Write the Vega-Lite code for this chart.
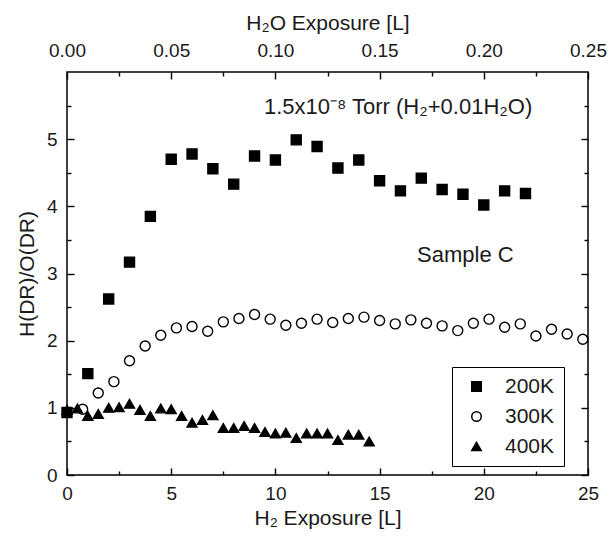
{
  "$schema": "https://vega.github.io/schema/vega-lite/v6.json",
  "width": 521,
  "height": 403,
  "autosize": {"type": "none"},
  "padding": {"left": 67, "top": 72, "right": 22, "bottom": 69},
  "background": "white",
  "config": {
    "font": "Liberation Sans",
    "view": {"stroke": "black", "strokeWidth": 1.5},
    "axis": {
      "domain": false,
      "grid": false,
      "ticks": true,
      "tickColor": "black",
      "tickWidth": 1.4,
      "labelFlush": false,
      "labelFont": "Liberation Sans",
      "labelFontSize": 19,
      "labelColor": "#1a1a1a",
      "titleFont": "Liberation Sans",
      "titleFontSize": 21,
      "titleFontWeight": "normal",
      "titleColor": "#1a1a1a"
    }
  },
  "datasets": {
    "pts": [
      {"h2": 0, "ratio": 0.93, "series": "200K"},
      {"h2": 1, "ratio": 1.51, "series": "200K"},
      {"h2": 2, "ratio": 2.62, "series": "200K"},
      {"h2": 3, "ratio": 3.17, "series": "200K"},
      {"h2": 4, "ratio": 3.85, "series": "200K"},
      {"h2": 5, "ratio": 4.70, "series": "200K"},
      {"h2": 6, "ratio": 4.78, "series": "200K"},
      {"h2": 7, "ratio": 4.56, "series": "200K"},
      {"h2": 8, "ratio": 4.33, "series": "200K"},
      {"h2": 9, "ratio": 4.75, "series": "200K"},
      {"h2": 10, "ratio": 4.69, "series": "200K"},
      {"h2": 11, "ratio": 4.99, "series": "200K"},
      {"h2": 12, "ratio": 4.89, "series": "200K"},
      {"h2": 13, "ratio": 4.57, "series": "200K"},
      {"h2": 14, "ratio": 4.69, "series": "200K"},
      {"h2": 15, "ratio": 4.38, "series": "200K"},
      {"h2": 16, "ratio": 4.23, "series": "200K"},
      {"h2": 17, "ratio": 4.42, "series": "200K"},
      {"h2": 18, "ratio": 4.25, "series": "200K"},
      {"h2": 19, "ratio": 4.18, "series": "200K"},
      {"h2": 20, "ratio": 4.02, "series": "200K"},
      {"h2": 21, "ratio": 4.23, "series": "200K"},
      {"h2": 22, "ratio": 4.19, "series": "200K"},
      {"h2": 0.75, "ratio": 0.98, "series": "300K"},
      {"h2": 1.5, "ratio": 1.22, "series": "300K"},
      {"h2": 2.25, "ratio": 1.39, "series": "300K"},
      {"h2": 3.0, "ratio": 1.70, "series": "300K"},
      {"h2": 3.75, "ratio": 1.92, "series": "300K"},
      {"h2": 4.5, "ratio": 2.08, "series": "300K"},
      {"h2": 5.25, "ratio": 2.19, "series": "300K"},
      {"h2": 6.0, "ratio": 2.21, "series": "300K"},
      {"h2": 6.75, "ratio": 2.14, "series": "300K"},
      {"h2": 7.5, "ratio": 2.28, "series": "300K"},
      {"h2": 8.25, "ratio": 2.33, "series": "300K"},
      {"h2": 9.0, "ratio": 2.39, "series": "300K"},
      {"h2": 9.75, "ratio": 2.32, "series": "300K"},
      {"h2": 10.5, "ratio": 2.23, "series": "300K"},
      {"h2": 11.25, "ratio": 2.26, "series": "300K"},
      {"h2": 12.0, "ratio": 2.32, "series": "300K"},
      {"h2": 12.75, "ratio": 2.27, "series": "300K"},
      {"h2": 13.5, "ratio": 2.33, "series": "300K"},
      {"h2": 14.25, "ratio": 2.35, "series": "300K"},
      {"h2": 15.0, "ratio": 2.30, "series": "300K"},
      {"h2": 15.75, "ratio": 2.25, "series": "300K"},
      {"h2": 16.5, "ratio": 2.31, "series": "300K"},
      {"h2": 17.25, "ratio": 2.26, "series": "300K"},
      {"h2": 18.0, "ratio": 2.22, "series": "300K"},
      {"h2": 18.75, "ratio": 2.15, "series": "300K"},
      {"h2": 19.5, "ratio": 2.26, "series": "300K"},
      {"h2": 20.25, "ratio": 2.32, "series": "300K"},
      {"h2": 21.0, "ratio": 2.20, "series": "300K"},
      {"h2": 21.75, "ratio": 2.25, "series": "300K"},
      {"h2": 22.5, "ratio": 2.07, "series": "300K"},
      {"h2": 23.25, "ratio": 2.17, "series": "300K"},
      {"h2": 24.0, "ratio": 2.10, "series": "300K"},
      {"h2": 24.75, "ratio": 2.02, "series": "300K"},
      {"h2": 0, "ratio": 0.97, "series": "400K"},
      {"h2": 0.5, "ratio": 0.99, "series": "400K"},
      {"h2": 1.0, "ratio": 0.88, "series": "400K"},
      {"h2": 1.5, "ratio": 0.91, "series": "400K"},
      {"h2": 2.0, "ratio": 1.00, "series": "400K"},
      {"h2": 2.5, "ratio": 1.01, "series": "400K"},
      {"h2": 3.0, "ratio": 1.06, "series": "400K"},
      {"h2": 3.5, "ratio": 0.97, "series": "400K"},
      {"h2": 4.0, "ratio": 0.88, "series": "400K"},
      {"h2": 4.5, "ratio": 0.99, "series": "400K"},
      {"h2": 5.0, "ratio": 0.98, "series": "400K"},
      {"h2": 5.5, "ratio": 0.88, "series": "400K"},
      {"h2": 6.0, "ratio": 0.78, "series": "400K"},
      {"h2": 6.5, "ratio": 0.82, "series": "400K"},
      {"h2": 7.0, "ratio": 0.89, "series": "400K"},
      {"h2": 7.5, "ratio": 0.70, "series": "400K"},
      {"h2": 8.0, "ratio": 0.70, "series": "400K"},
      {"h2": 8.5, "ratio": 0.73, "series": "400K"},
      {"h2": 9.0, "ratio": 0.70, "series": "400K"},
      {"h2": 9.5, "ratio": 0.64, "series": "400K"},
      {"h2": 10.0, "ratio": 0.62, "series": "400K"},
      {"h2": 10.5, "ratio": 0.63, "series": "400K"},
      {"h2": 11.0, "ratio": 0.55, "series": "400K"},
      {"h2": 11.5, "ratio": 0.62, "series": "400K"},
      {"h2": 12.0, "ratio": 0.62, "series": "400K"},
      {"h2": 12.5, "ratio": 0.62, "series": "400K"},
      {"h2": 13.0, "ratio": 0.52, "series": "400K"},
      {"h2": 13.5, "ratio": 0.60, "series": "400K"},
      {"h2": 14.0, "ratio": 0.60, "series": "400K"},
      {"h2": 14.5, "ratio": 0.50, "series": "400K"}
    ],
    "notes": [
      {"h2": 9.45, "ratio": 5.48, "label": "1.5x10⁻⁸ Torr (H₂+0.01H₂O)"},
      {"h2": 16.8, "ratio": 3.27, "label": "Sample C"}
    ]
  },
  "layer": [
    {
      "data": {"name": "pts"},
      "mark": {"type": "point", "filled": true, "strokeWidth": 1.4, "opacity": 1, "size": 100},
      "encoding": {
        "x": {
          "field": "h2", "type": "quantitative",
          "scale": {"domain": [0, 25], "nice": false, "zero": false},
          "axis": {
            "orient": "bottom",
            "values": [0, 5, 10, 15, 20, 25],
            "offset": -7,
            "tickSize": 7,
            "labelPadding": 9,
            "title": "H₂ Exposure [L]",
            "titlePadding": 4
          }
        },
        "y": {
          "field": "ratio", "type": "quantitative",
          "scale": {"domain": [0, 6], "nice": false},
          "axis": {
            "orient": "left",
            "values": [0, 1, 2, 3, 4, 5],
            "format": "d",
            "offset": -7,
            "tickSize": 7,
            "labelPadding": 10,
            "title": "H(DR)/O(DR)",
            "titlePadding": 9
          }
        },
        "shape": {
          "field": "series", "type": "nominal",
          "scale": {"domain": ["200K", "300K", "400K"], "range": ["square", "circle", "triangle-up"]},
          "legend": {
            "orient": "none", "legendX": 385, "legendY": 295, "title": null,
            "strokeColor": "black", "fillColor": "white", "padding": 9,
            "labelFontSize": 21, "labelColor": "#1a1a1a", "labelOffset": 18,
            "symbolSize": 90, "symbolOffset": 5, "rowPadding": 8,
            "labelExpr": "datum.label + '\u00a0'",
            "encode": {"symbols": {"update": {"stroke": {"value": "black"}, "strokeWidth": {"value": 1.4}}}}
          }
        },
        "fill": {
          "field": "series", "type": "nominal",
          "scale": {"domain": ["200K", "300K", "400K"], "range": ["black", "white", "black"]},
          "legend": {
            "orient": "none", "legendX": 385, "legendY": 295, "title": null,
            "strokeColor": "black", "fillColor": "white", "padding": 9,
            "labelFontSize": 21, "labelColor": "#1a1a1a", "labelOffset": 18,
            "symbolSize": 90, "symbolOffset": 5, "rowPadding": 8,
            "labelExpr": "datum.label + '\u00a0'",
            "encode": {"symbols": {"update": {"stroke": {"value": "black"}, "strokeWidth": {"value": 1.4}}}}
          }
        },
        "stroke": {"value": "black"}
      }
    },
    {
      "data": {"name": "notes"},
      "mark": {"type": "text", "align": "left", "baseline": "middle", "fontSize": 22, "color": "#1a1a1a", "font": "Liberation Sans"},
      "encoding": {
        "x": {"field": "h2", "type": "quantitative", "scale": {"domain": [0, 25], "nice": false, "zero": false}, "axis": null},
        "y": {"field": "ratio", "type": "quantitative", "scale": {"domain": [0, 6], "nice": false}, "axis": null},
        "text": {"field": "label"}
      }
    },
    {
      "data": {"name": "pts"},
      "mark": {"type": "point", "opacity": 0},
      "encoding": {
        "x": {
          "field": "h2", "type": "quantitative",
          "scale": {"domain": [0, 25], "nice": false, "zero": false},
          "axis": {
            "orient": "top",
            "values": [0, 5, 10, 15, 20, 25],
            "labelExpr": "format(datum.value / 100, '.2f')",
            "offset": -7,
            "tickSize": 7,
            "labelPadding": 12,
            "title": "H₂O Exposure [L]",
            "titlePadding": 8
          }
        },
        "y": {
          "field": "ratio", "type": "quantitative",
          "scale": {"domain": [0, 6], "nice": false},
          "axis": {
            "orient": "right",
            "values": [0, 1, 2, 3, 4, 5],
            "offset": -7,
            "tickSize": 7,
            "labels": false,
            "title": null
          }
        }
      }
    },
    {
      "data": {"name": "pts"},
      "mark": {"type": "point", "opacity": 0},
      "encoding": {
        "x": {
          "field": "h2", "type": "quantitative",
          "scale": {"domain": [0, 25], "nice": false, "zero": false},
          "axis": {
            "orient": "bottom",
            "values": [2.5, 7.5, 12.5, 17.5, 22.5],
            "offset": -4,
            "tickSize": 4,
            "labels": false,
            "title": null
          }
        },
        "y": {
          "field": "ratio", "type": "quantitative",
          "scale": {"domain": [0, 6], "nice": false},
          "axis": {
            "orient": "left",
            "values": [0.5, 1.5, 2.5, 3.5, 4.5, 5.5],
            "offset": -4,
            "tickSize": 4,
            "labels": false,
            "title": null
          }
        }
      }
    },
    {
      "data": {"name": "pts"},
      "mark": {"type": "point", "opacity": 0},
      "encoding": {
        "x": {
          "field": "h2", "type": "quantitative",
          "scale": {"domain": [0, 25], "nice": false, "zero": false},
          "axis": {
            "orient": "top",
            "values": [2.5, 7.5, 12.5, 17.5, 22.5],
            "offset": -4,
            "tickSize": 4,
            "labels": false,
            "title": null
          }
        },
        "y": {
          "field": "ratio", "type": "quantitative",
          "scale": {"domain": [0, 6], "nice": false},
          "axis": {
            "orient": "right",
            "values": [0.5, 1.5, 2.5, 3.5, 4.5, 5.5],
            "offset": -4,
            "tickSize": 4,
            "labels": false,
            "title": null
          }
        }
      }
    }
  ],
  "resolve": {
    "scale": {"x": "independent", "y": "independent"},
    "axis": {"x": "independent", "y": "independent"}
  }
}
